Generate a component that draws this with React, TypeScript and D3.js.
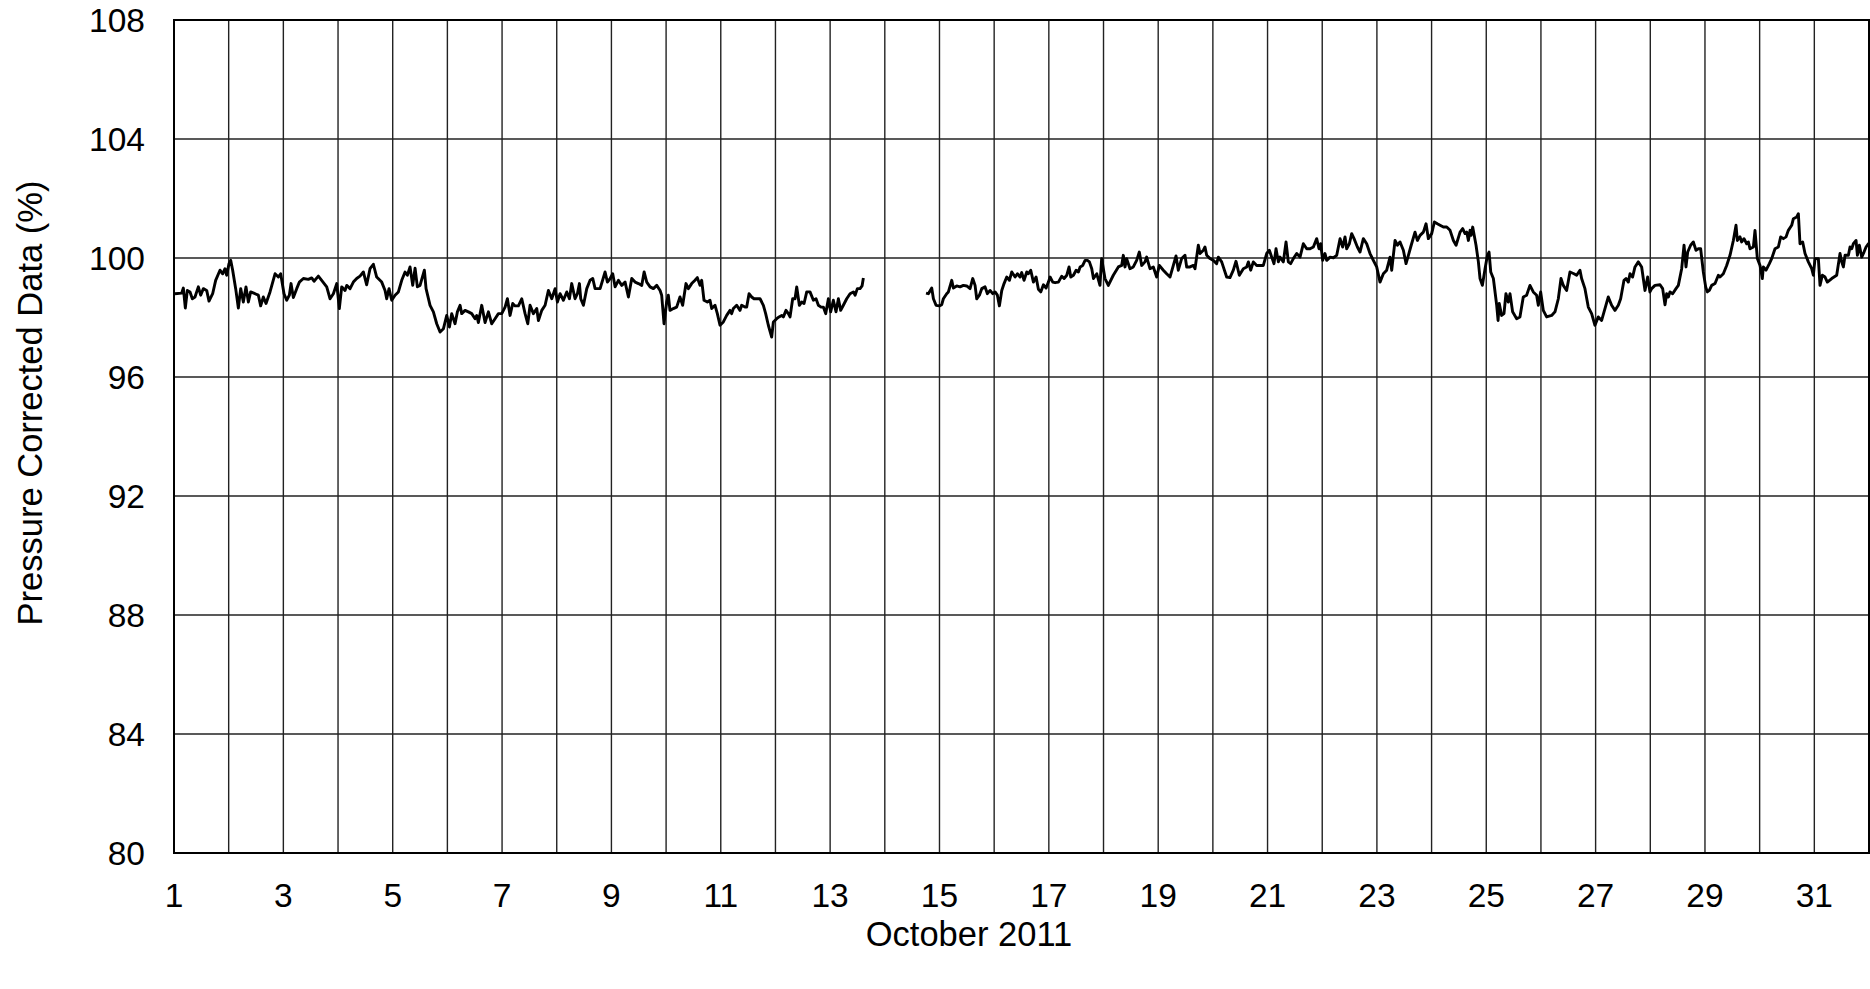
import * as d3 from "d3";

// x = day of October 2011 (fractional), y = pressure corrected value (%)
const segmentA: [number, number][] = [
  [1.018, 98.8], [1.14, 98.82], [1.171, 98.99], [1.207, 98.32], [1.244, 98.91], [1.293, 98.86],
  [1.335, 98.63], [1.384, 98.69], [1.445, 99.03], [1.488, 98.75], [1.537, 98.97], [1.598, 98.91],
  [1.64, 98.55], [1.707, 98.8], [1.762, 99.25], [1.841, 99.59], [1.89, 99.47], [1.933, 99.64],
  [1.963, 99.42], [2.006, 99.81], [2.037, 99.92], [2.073, 99.59], [2.128, 98.97], [2.177, 98.32],
  [2.22, 98.97], [2.268, 98.52], [2.317, 99.03], [2.36, 98.52], [2.402, 98.86], [2.482, 98.8],
  [2.543, 98.75], [2.585, 98.39], [2.634, 98.69], [2.683, 98.47], [2.756, 98.86], [2.848, 99.47],
  [2.909, 99.36], [2.951, 99.47], [3.012, 98.8], [3.061, 98.58], [3.11, 98.75], [3.14, 99.14],
  [3.183, 98.67], [3.244, 98.97], [3.293, 99.19], [3.366, 99.31], [3.457, 99.28], [3.518, 99.33],
  [3.561, 99.22], [3.64, 99.39], [3.701, 99.25], [3.793, 99.03], [3.854, 98.63], [3.915, 98.8],
  [3.976, 99.14], [4.024, 98.3], [4.067, 99.03], [4.128, 98.91], [4.159, 99.08], [4.22, 98.97],
  [4.28, 99.19], [4.341, 99.31], [4.402, 99.39], [4.463, 99.53], [4.524, 99.1], [4.585, 99.64],
  [4.646, 99.79], [4.707, 99.36], [4.799, 99.19], [4.86, 98.91], [4.89, 98.63], [4.933, 98.97],
  [4.982, 98.58], [5.043, 98.75], [5.104, 98.86], [5.165, 99.25], [5.226, 99.53], [5.268, 99.42],
  [5.317, 99.7], [5.366, 99.08], [5.409, 99.66], [5.451, 99.03], [5.5, 99.08], [5.579, 99.59],
  [5.61, 98.97], [5.683, 98.41], [5.744, 98.19], [5.805, 97.79], [5.866, 97.51], [5.927, 97.62],
  [5.988, 98.07], [6.037, 97.68], [6.079, 98.13], [6.14, 97.79], [6.183, 98.19], [6.232, 98.41],
  [6.262, 98.13], [6.323, 98.24], [6.384, 98.19], [6.445, 98.13], [6.506, 97.96], [6.537, 98.07],
  [6.567, 97.83], [6.628, 98.41], [6.689, 97.83], [6.75, 98.19], [6.811, 97.79], [6.872, 97.96],
  [6.933, 98.13], [6.994, 98.13], [7.055, 98.35], [7.098, 98.63], [7.146, 98.07], [7.195, 98.47],
  [7.238, 98.39], [7.299, 98.39], [7.36, 98.63], [7.421, 98.13], [7.47, 97.79], [7.512, 98.41],
  [7.573, 98.13], [7.634, 98.3], [7.665, 97.9], [7.726, 98.24], [7.787, 98.41], [7.848, 98.91],
  [7.909, 98.63], [7.97, 98.97], [8.012, 98.52], [8.061, 98.8], [8.122, 98.58], [8.183, 98.86],
  [8.232, 98.63], [8.274, 99.14], [8.335, 98.63], [8.378, 98.8], [8.415, 99.14], [8.439, 98.63],
  [8.488, 98.41], [8.549, 98.97], [8.61, 99.25], [8.659, 99.31], [8.701, 98.97], [8.793, 98.97],
  [8.884, 99.53], [8.927, 99.19], [8.976, 99.31], [9.024, 99.47], [9.067, 99.03], [9.128, 99.25],
  [9.189, 99.08], [9.25, 99.19], [9.311, 98.69], [9.372, 99.31], [9.433, 99.19], [9.494, 99.14],
  [9.555, 99.08], [9.598, 99.53], [9.646, 99.19], [9.707, 99.03], [9.768, 98.97], [9.829, 99.08],
  [9.89, 98.91], [9.919, 98.75], [9.962, 97.79], [10.01, 98.52], [10.041, 98.75], [10.071, 98.24],
  [10.132, 98.3], [10.193, 98.35], [10.254, 98.69], [10.303, 98.41], [10.364, 99.14], [10.407, 98.97],
  [10.468, 99.14], [10.529, 99.25], [10.571, 99.34], [10.62, 99.08], [10.651, 99.25], [10.693, 98.58],
  [10.754, 98.52], [10.803, 98.58], [10.834, 98.3], [10.895, 98.41], [10.937, 98.13], [10.986, 97.74],
  [11.047, 97.85], [11.108, 98.07], [11.169, 98.24], [11.199, 98.13], [11.23, 98.3], [11.291, 98.41],
  [11.352, 98.24], [11.382, 98.41], [11.443, 98.35], [11.474, 98.35], [11.517, 98.8], [11.565, 98.69],
  [11.608, 98.63], [11.657, 98.63], [11.718, 98.63], [11.779, 98.41], [11.821, 98.13], [11.87, 97.74],
  [11.931, 97.34], [11.962, 97.85], [12.023, 97.96], [12.065, 98.02], [12.114, 98.07], [12.145, 98.02],
  [12.193, 98.24], [12.236, 98.13], [12.267, 98.02], [12.315, 98.63], [12.358, 98.63], [12.389, 99.03],
  [12.437, 98.41], [12.48, 98.52], [12.523, 98.47], [12.572, 98.86], [12.632, 98.86], [12.694, 98.58],
  [12.742, 98.63], [12.785, 98.41], [12.834, 98.35], [12.876, 98.35], [12.919, 98.13], [12.968, 98.63],
  [13.01, 98.19], [13.059, 98.58], [13.108, 98.19], [13.151, 98.63], [13.193, 98.24], [13.242, 98.41],
  [13.303, 98.63], [13.364, 98.8], [13.425, 98.86], [13.456, 98.75], [13.498, 98.97], [13.547, 98.97],
  [13.584, 99.06], [13.608, 99.33],
];

const segmentB: [number, number][] = [
  [14.754, 98.82], [14.797, 98.8], [14.858, 98.99], [14.889, 98.63], [14.937, 98.41], [14.998, 98.39],
  [15.041, 98.43], [15.071, 98.63], [15.132, 98.8], [15.163, 98.86], [15.224, 99.25], [15.254, 98.99],
  [15.315, 99.06], [15.376, 99.03], [15.437, 99.08], [15.498, 99.06], [15.559, 98.97], [15.608, 99.31],
  [15.651, 99.08], [15.681, 98.63], [15.73, 98.75], [15.773, 98.97], [15.834, 99.03], [15.876, 98.8],
  [15.925, 98.91], [15.974, 98.8], [16.017, 98.86], [16.059, 98.75], [16.096, 98.39], [16.139, 98.91],
  [16.181, 99.14], [16.23, 99.36], [16.279, 99.25], [16.322, 99.53], [16.383, 99.36], [16.425, 99.47],
  [16.474, 99.36], [16.504, 99.51], [16.547, 99.25], [16.596, 99.53], [16.626, 99.47], [16.669, 99.59],
  [16.718, 99.19], [16.767, 99.36], [16.809, 98.95], [16.852, 98.86], [16.901, 99.1], [16.95, 98.99],
  [16.992, 99.19], [17.023, 99.36], [17.072, 99.19], [17.114, 99.17], [17.175, 99.19], [17.236, 99.39],
  [17.279, 99.31], [17.328, 99.42], [17.37, 99.7], [17.401, 99.36], [17.45, 99.42], [17.499, 99.59],
  [17.541, 99.53], [17.572, 99.7], [17.62, 99.75], [17.663, 99.92], [17.706, 99.92], [17.742, 99.87],
  [17.785, 99.64], [17.816, 99.31], [17.877, 99.47], [17.935, 99.08], [17.966, 99.98], [18.027, 99.31],
  [18.088, 99.08], [18.179, 99.42], [18.271, 99.7], [18.332, 99.75], [18.362, 100.09], [18.393, 99.7],
  [18.423, 99.98], [18.484, 99.64], [18.545, 99.7], [18.606, 99.92], [18.655, 100.2], [18.698, 99.75],
  [18.758, 99.87], [18.789, 100.03], [18.85, 99.64], [18.911, 99.7], [18.972, 99.36], [19.021, 99.75],
  [19.094, 99.59], [19.155, 99.47], [19.216, 99.36], [19.277, 99.75], [19.326, 100.07], [19.368, 99.59],
  [19.429, 99.98], [19.49, 100.09], [19.521, 99.7], [19.582, 99.7], [19.643, 99.75], [19.673, 99.64],
  [19.734, 100.43], [19.765, 100.15], [19.826, 100.26], [19.856, 100.37], [19.887, 100.09], [19.948, 99.98],
  [20.008, 99.92], [20.069, 99.81], [20.1, 100.03], [20.161, 99.87], [20.252, 99.36], [20.313, 99.34],
  [20.374, 99.59], [20.423, 99.89], [20.484, 99.42], [20.557, 99.64], [20.618, 99.7], [20.649, 99.87],
  [20.691, 99.59], [20.74, 99.87], [20.801, 99.75], [20.923, 99.75], [20.984, 100.15], [21.033, 100.26],
  [21.076, 100.03], [21.118, 99.81], [21.155, 100.31], [21.198, 99.87], [21.228, 100.03], [21.289, 99.87],
  [21.338, 100.54], [21.38, 99.87], [21.423, 99.81], [21.472, 99.98], [21.533, 100.15], [21.594, 100.03],
  [21.655, 100.48], [21.716, 100.31], [21.777, 100.31], [21.838, 100.37], [21.899, 100.65], [21.941, 100.31],
  [21.972, 100.48], [22.008, 99.92], [22.051, 100.15], [22.082, 99.92], [22.143, 100.03], [22.204, 100.01],
  [22.265, 100.09], [22.326, 100.65], [22.374, 100.37], [22.417, 100.71], [22.447, 100.31], [22.496, 100.48],
  [22.539, 100.82], [22.582, 100.65], [22.643, 100.37], [22.691, 100.2], [22.752, 100.65], [22.813, 100.48],
  [22.874, 100.15], [22.935, 99.92], [22.996, 99.7], [23.057, 99.19], [23.118, 99.47], [23.179, 99.59],
  [23.24, 100.03], [23.271, 99.59], [23.301, 100.09], [23.332, 100.59], [23.374, 100.43], [23.423, 100.54],
  [23.484, 100.26], [23.533, 99.81], [23.576, 100.09], [23.618, 100.37], [23.697, 100.87], [23.74, 100.59],
  [23.789, 100.76], [23.85, 100.87], [23.899, 101.15], [23.941, 100.65], [24.002, 100.82], [24.051, 101.21],
  [24.106, 101.15], [24.155, 101.1], [24.216, 101.04], [24.277, 101.04], [24.338, 100.93], [24.399, 100.59],
  [24.448, 100.43], [24.521, 100.87], [24.569, 100.99], [24.612, 100.82], [24.643, 100.87], [24.673, 100.59],
  [24.704, 100.93], [24.722, 100.76], [24.752, 101.04], [24.813, 100.43], [24.856, 99.87], [24.886, 99.31],
  [24.929, 99.08], [24.978, 99.64], [25.021, 100.09], [25.051, 100.2], [25.082, 99.53], [25.13, 99.31],
  [25.191, 98.41], [25.216, 97.9], [25.238, 98.47], [25.281, 98.07], [25.324, 98.13], [25.36, 98.8],
  [25.403, 98.52], [25.434, 98.8], [25.482, 98.19], [25.556, 97.96], [25.616, 98.02], [25.677, 98.69],
  [25.738, 98.75], [25.799, 99.08], [25.86, 98.86], [25.921, 98.75], [25.952, 98.41], [25.995, 98.86],
  [26.043, 98.24], [26.104, 98.02], [26.196, 98.07], [26.257, 98.19], [26.318, 98.63], [26.367, 99.31],
  [26.409, 99.08], [26.47, 98.91], [26.531, 99.53], [26.604, 99.47], [26.653, 99.42], [26.714, 99.59],
  [26.744, 99.31], [26.805, 98.97], [26.866, 98.35], [26.927, 98.13], [26.988, 97.74], [27.049, 98.02],
  [27.11, 97.9], [27.232, 98.69], [27.293, 98.41], [27.354, 98.24], [27.415, 98.41], [27.458, 98.63],
  [27.519, 99.25], [27.556, 99.31], [27.598, 99.19], [27.629, 99.47], [27.677, 99.36], [27.72, 99.7],
  [27.781, 99.87], [27.842, 99.7], [27.903, 98.91], [27.952, 99.36], [27.994, 98.86], [28.025, 98.97],
  [28.086, 99.08], [28.178, 99.1], [28.226, 98.97], [28.269, 98.43], [28.299, 98.8], [28.33, 98.69],
  [28.36, 98.86], [28.409, 98.8], [28.47, 98.97], [28.513, 99.08], [28.574, 99.64], [28.617, 100.43],
  [28.653, 99.7], [28.684, 100.2], [28.738, 100.43], [28.787, 100.54], [28.836, 100.26], [28.879, 100.31],
  [28.921, 100.31], [28.97, 99.53], [29.013, 99.03], [29.043, 98.86], [29.08, 98.91], [29.123, 99.08],
  [29.184, 99.14], [29.245, 99.42], [29.275, 99.36], [29.336, 99.47], [29.397, 99.75], [29.458, 100.09],
  [29.519, 100.59], [29.568, 101.1], [29.592, 100.59], [29.641, 100.71], [29.671, 100.54], [29.714, 100.65],
  [29.763, 100.48], [29.793, 100.54], [29.824, 100.31], [29.885, 100.37], [29.915, 100.93], [29.958, 99.98],
  [30.007, 99.75], [30.049, 99.31], [30.068, 99.7], [30.117, 99.59], [30.178, 99.81], [30.22, 99.98],
  [30.281, 100.31], [30.342, 100.37], [30.385, 100.71], [30.434, 100.65], [30.483, 100.71], [30.525, 100.93],
  [30.586, 101.1], [30.617, 101.32], [30.678, 101.38], [30.708, 101.49], [30.738, 100.48], [30.787, 100.54],
  [30.83, 100.15], [30.891, 99.87], [30.952, 99.64], [30.982, 99.42], [31.013, 99.98], [31.074, 99.98],
  [31.104, 99.08], [31.147, 99.42], [31.196, 99.36], [31.238, 99.19], [31.318, 99.31], [31.409, 99.42],
  [31.47, 100.15], [31.501, 99.87], [31.531, 99.7], [31.562, 100.09], [31.623, 100.09], [31.653, 100.37],
  [31.684, 100.31], [31.714, 100.48], [31.763, 100.59], [31.788, 100.09], [31.824, 100.43], [31.867, 100.03],
  [31.909, 100.2], [31.946, 100.37], [31.988, 100.48], [32.0, 100.43],
];

const xTicks = [1, 3, 5, 7, 9, 11, 13, 15, 17, 19, 21, 23, 25, 27, 29, 31];
const yTicks = [80, 84, 88, 92, 96, 100, 104, 108];
const dayGrid = d3.range(2, 32);

const W = 1870;
const H = 989;
const left = 174;
const right = 1869;
const top = 20;
const bottom = 853;
const font = "'Liberation Sans', Arial, sans-serif";

export default function App() {
  const x = d3.scaleLinear().domain([1, 32]).range([left, right]);
  const y = d3.scaleLinear().domain([80, 108]).range([bottom, top]);
  const line = d3
    .line<[number, number]>()
    .x((d) => x(d[0]))
    .y((d) => y(d[1]));

  return (
    <>
      <style>{"body{margin:0;overflow:hidden}"}</style>
      <svg width={W} height={H} style={{ display: "block", background: "#fff" }}>
        {/* grid */}
        {dayGrid.map((d) => (
          <line
            key={"v" + d}
            x1={x(d)}
            x2={x(d)}
            y1={top}
            y2={bottom}
            stroke="#222"
            strokeWidth={1.4}
          />
        ))}
        {yTicks.slice(1, -1).map((v) => (
          <line
            key={"h" + v}
            x1={left}
            x2={right}
            y1={y(v)}
            y2={y(v)}
            stroke="#222"
            strokeWidth={1.4}
          />
        ))}

        {/* data */}
        {[segmentA, segmentB].map((seg, i) => (
          <path
            key={i}
            d={line(seg) ?? ""}
            fill="none"
            stroke="#000"
            strokeWidth={2.9}
            strokeLinejoin="round"
          />
        ))}

        {/* frame */}
        <rect
          x={left}
          y={top}
          width={right - left}
          height={bottom - top}
          fill="none"
          stroke="#000"
          strokeWidth={2}
        />

        {/* y tick labels */}
        {yTicks.map((v) => (
          <text
            key={"yl" + v}
            x={145}
            y={y(v) + 12}
            textAnchor="end"
            fontFamily={font}
            fontSize={33.5}
            fill="#000"
          >
            {v}
          </text>
        ))}

        {/* x tick labels */}
        {xTicks.map((d) => (
          <text
            key={"xl" + d}
            x={x(d)}
            y={907}
            textAnchor="middle"
            fontFamily={font}
            fontSize={33.5}
            fill="#000"
          >
            {d}
          </text>
        ))}

        <text
          x={969}
          y={946}
          textAnchor="middle"
          fontFamily={font}
          fontSize={34.5}
          fill="#000"
        >
          October 2011
        </text>
        <text
          transform="translate(42,403) rotate(-90)"
          textAnchor="middle"
          fontFamily={font}
          fontSize={34.5}
          fill="#000"
        >
          Pressure Corrected Data (%)
        </text>
      </svg>
    </>
  );
}
